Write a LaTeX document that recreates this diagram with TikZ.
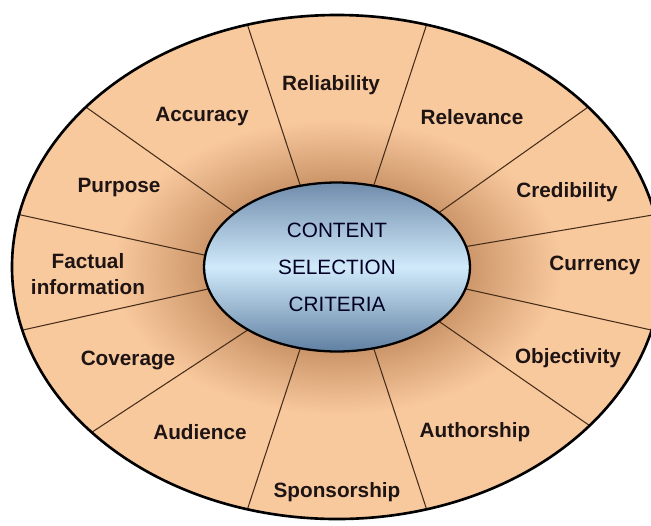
\documentclass[tikz,border=0pt]{standalone}
\usepackage{fontspec}
\setsansfont{Liberation Sans}
\usetikzlibrary{shapes.geometric}

\definecolor{peach}{RGB}{249,201,158}
\definecolor{halobrown}{RGB}{204,150,106}
\definecolor{spokebrown}{RGB}{70,45,25}
\definecolor{hubtop}{RGB}{112,140,172}
\definecolor{hubmid}{RGB}{208,234,250}
\definecolor{hubbot}{RGB}{96,128,162}
\definecolor{labeltext}{RGB}{30,20,20}

\pgfdeclareradialshading{halo}{\pgfpoint{0bp}{0bp}}{%
  color(0bp)=(halobrown); color(14.5bp)=(halobrown);%
  color(25bp)=(peach); color(50bp)=(peach)}

\tikzset{
  crit/.style={font=\sffamily\bfseries\fontsize{11.8}{14.5}\selectfont,
    text=labeltext, align=center},
  hub/.style={ellipse, draw=black, line width=1.3pt, inner sep=0pt,
    minimum width=5.32cm, minimum height=3.38cm,
    top color=hubtop, bottom color=hubbot, middle color=hubmid,
    font=\sffamily\fontsize{11.8}{21}\selectfont, text=black!85!blue,
    align=center},
  spoke/.style={draw=spokebrown, line width=0.6pt},
}

\begin{document}
\begin{tikzpicture}[x=0.02cm,y=0.02cm]
      \useasboundingbox (-337,-258) rectangle (314,267);
      \clip (-337,-258) rectangle (314,267);

      % wheel and shadow round the hub
      \fill[peach] (0,0) ellipse [x radius=325, y radius=252];
      \shade[shading=halo] (0,0) ellipse [x radius=225, y radius=148];

      \draw[spoke] (74:133 and 84.5) -- (74:325 and 252);
      \draw[spoke] (40:133 and 84.5) -- (39.4:325 and 252);
      \draw[spoke] (14:133 and 84.5) -- (12:325 and 252);
      \draw[spoke] (-15:133 and 84.5) -- (-14.5:325 and 252);
      \draw[spoke] (-40:133 and 84.5) -- (-39:325 and 252);
      \draw[spoke] (-74:133 and 84.5) -- (-74:325 and 252);
      \draw[spoke] (106:133 and 84.5) -- (106:325 and 252);
      \draw[spoke] (140:133 and 84.5) -- (140.6:325 and 252);
      \draw[spoke] (172:133 and 84.5) -- (168:325 and 252);
      \draw[spoke] (195:133 and 84.5) -- (194.5:325 and 252);
      \draw[spoke] (228:133 and 84.5) -- (221:325 and 252);
      \draw[spoke] (254:133 and 84.5) -- (254:325 and 252);

      \draw[black, line width=1.5pt] (0,0) ellipse [x radius=325, y radius=252];

      \node[hub] (hub) at (0,0) {CONTENT\\SELECTION\\CRITERIA};

      \node[crit] (reliab) at (-6,182) {Reliability};
      \node[crit] (relev) at (135,150) {Relevance};
      \node[crit] (cred) at (230,75) {Credibility};
      \node[crit] (curr) at (258,2) {Currency};
      \node[crit] (obj) at (231,-91) {Objectivity};
      \node[crit] (auth) at (138,-165) {Authorship};
      \node[crit] (spons) at (0,-225) {Sponsorship};
      \node[crit] (aud) at (-137,-165) {Audience};
      \node[crit] (cover) at (-209,-93) {Coverage};
      \node[crit] (fact) at (-249,-7) {Factual\\information};
      \node[crit] (purp) at (-218,79) {Purpose};
      \node[crit] (accur) at (-135,150) {Accuracy};

    \end{tikzpicture}
\end{document}
